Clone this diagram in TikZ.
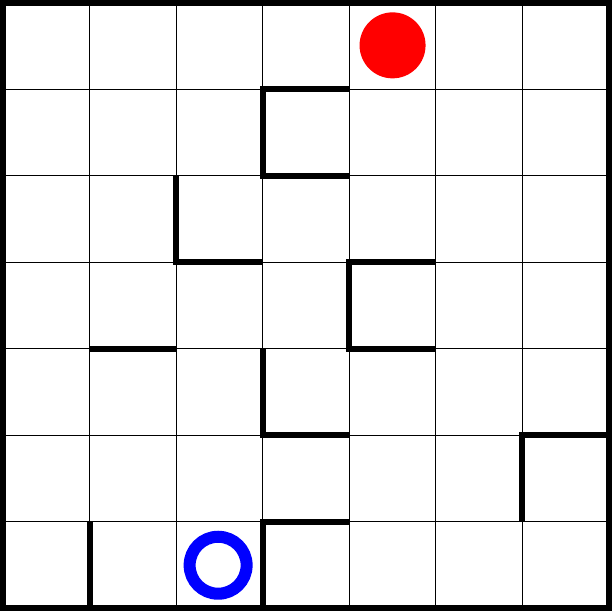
\documentclass[tikz,border=0pt]{standalone}
\begin{document}
\begin{tikzpicture}[
  gridline/.style={line width=1.2pt, black},
  wall/.style={line width=6pt, black, line join=miter},
  border/.style={line width=6pt, black},
  goal/.style={circle, fill=red, minimum size=66pt, inner sep=0pt},
  start/.style={circle, draw=blue, line width=12pt, minimum size=57pt, inner sep=0pt}
]
\useasboundingbox (0,0) rectangle (612pt,-611pt);
\begin{scope}[shift={(3pt,-3pt)}, x=86.57pt, y=-86.43pt]
  % thin grid
  \foreach \i in {1,...,6} {
    \draw[gridline] (\i,0) -- (\i,7);
    \draw[gridline] (0,\i) -- (7,\i);
  }
  % walls
  \draw[wall] (4,1) -- (3,1) -- (3,2) -- (4,2);
  \draw[wall] (2,2) -- (2,3) -- (3,3);
  \draw[wall] (5,3) -- (4,3) -- (4,4) -- (5,4);
  \draw[wall] (1,4) -- (2,4);
  \draw[wall] (3,4) -- (3,5) -- (4,5);
  \draw[wall] (7,5) -- (6,5) -- (6,6);
  \draw[wall] (1,6) -- (1,7);
  \draw[wall] (4,6) -- (3,6) -- (3,7);
  % border
  \draw[border] (0,0) rectangle (7,7);
  % markers
  \node[goal] (goal) at (4.5,0.49) {};
  \node[start] (start) at (2.485,6.505) {};
\end{scope}
\end{tikzpicture}
\end{document}
